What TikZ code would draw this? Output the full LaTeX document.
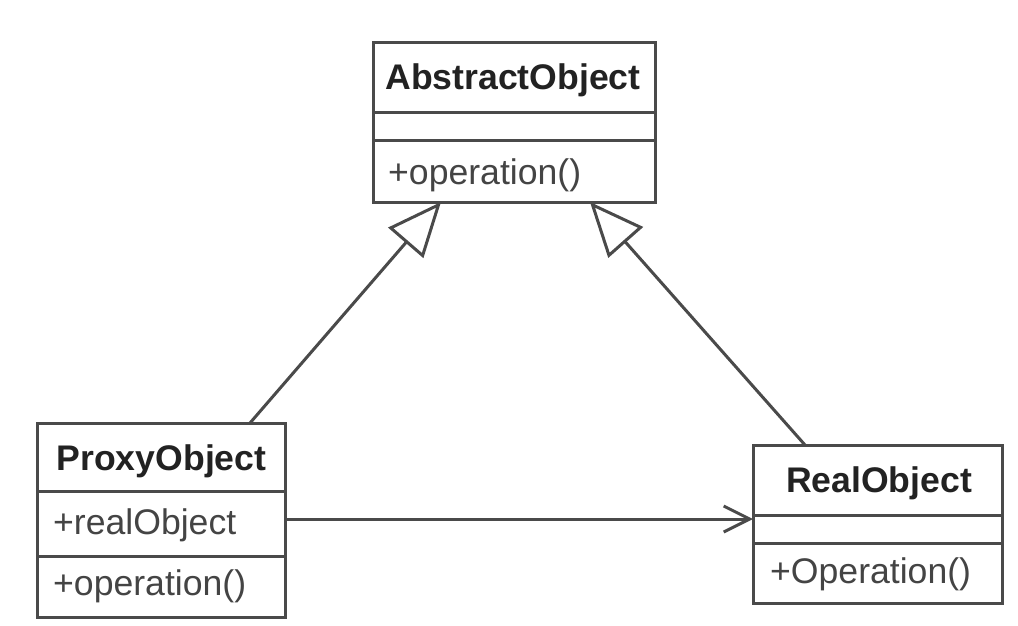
\documentclass[tikz,border=0pt]{standalone}
\usepackage{fontspec}
\setmainfont{Liberation Sans}
\usetikzlibrary{arrows.meta}
\definecolor{linec}{HTML}{4A4A4A}
\definecolor{titlec}{HTML}{222222}
\definecolor{memc}{HTML}{444444}
\tikzset{
  umlbox/.style={draw=linec, line width=3pt, fill=white, inner sep=0pt, outer sep=0pt},
  divider/.style={draw=linec, line width=3pt},
  titletext/.style={inner sep=0pt, anchor=base, text=titlec, font=\fontsize{35.6}{40}\selectfont\bfseries},
  memtext/.style={inner sep=0pt, anchor=base west, text=memc, font=\fontsize{35.6}{40}\selectfont},
  inherit/.style={draw=linec, line width=3pt, -{Triangle[open, length=54pt, width=46pt]}},
  assoc/.style={draw=linec, line width=3pt, -{Straight Barb[length=26pt, width=26pt]}}
}
\begin{document}
\begin{tikzpicture}[x=1pt, y=-1pt]
\useasboundingbox[fill=white] (0,0) rectangle (1018,626);
% boxes
\node[umlbox, minimum width=282pt, minimum height=159pt] (abs) at (514,122.5) {};
\node[umlbox, minimum width=248pt, minimum height=194pt] (proxy) at (161,520) {};
\node[umlbox, minimum width=249pt, minimum height=158pt] (real) at (877.5,524) {};
% dividers
\draw[divider] (abs.west |- 0,112) -- (abs.east |- 0,112);
\draw[divider] (abs.west |- 0,140) -- (abs.east |- 0,140);
\draw[divider] (proxy.west |- 0,491) -- (proxy.east |- 0,491);
\draw[divider] (proxy.west |- 0,556) -- (proxy.east |- 0,556);
\draw[divider] (real.west |- 0,515) -- (real.east |- 0,515);
\draw[divider] (real.west |- 0,543) -- (real.east |- 0,543);
% texts
\node[titletext] (absT) at (513,90) {AbstractObject};
\node[memtext] (absOp) at (388,184) {+operation()};
\node[titletext] (proxyT) at (161.5,470) {ProxyObject};
\node[memtext] (proxyAttr) at (53,534) {+realObject};
\node[memtext] (proxyOp) at (53,595) {+operation()};
\node[titletext] (realT) at (879,492) {RealObject};
\node[memtext] (realOp) at (770,583) {+Operation()};
% connectors
\draw[inherit] ([xshift=213pt]proxy.north west) -- ([xshift=68pt]abs.south west);
\draw[inherit] ([xshift=52pt]real.north west) -- ([xshift=-65pt]abs.south east);
\draw[assoc] ([yshift=1pt]proxy.east) -- ([yshift=1pt]proxy.east -| real.west);
\end{tikzpicture}
\end{document}
